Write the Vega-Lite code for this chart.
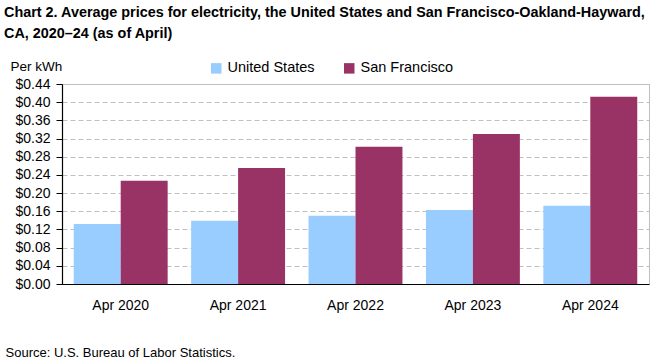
{
  "$schema": "https://vega.github.io/schema/vega-lite/v6.json",
  "width": 587,
  "height": 200,
  "autosize": "none",
  "padding": {"left": 62, "top": 84, "right": 12, "bottom": 76},
  "background": "white",
  "title": {
    "text": ["Chart 2. Average prices for electricity, the United States and San Francisco-Oakland-Hayward,", "CA, 2020–24 (as of April)"],
    "anchor": "start",
    "frame": "group",
    "dx": -58,
    "dy": -14,
    "font": "Liberation Sans",
    "fontSize": 14.4,
    "fontWeight": "bold",
    "color": "#000000",
    "lineHeight": 21,
    "baseline": "top"
  },
  "config": {
    "view": {"stroke": "#BFBFBF", "strokeWidth": 1},
    "font": "Liberation Sans",
    "axis": {"labelFont": "Liberation Sans", "labelColor": "#000000", "titleColor": "#000000"},
    "legend": {"labelFont": "Liberation Sans"}
  },
  "data": {
    "values": [
      {"period": "Apr 2020", "area": "United States", "price": 0.132},
      {"period": "Apr 2020", "area": "San Francisco", "price": 0.227},
      {"period": "Apr 2021", "area": "United States", "price": 0.139},
      {"period": "Apr 2021", "area": "San Francisco", "price": 0.255},
      {"period": "Apr 2022", "area": "United States", "price": 0.150},
      {"period": "Apr 2022", "area": "San Francisco", "price": 0.302},
      {"period": "Apr 2023", "area": "United States", "price": 0.163},
      {"period": "Apr 2023", "area": "San Francisco", "price": 0.330},
      {"period": "Apr 2024", "area": "United States", "price": 0.172},
      {"period": "Apr 2024", "area": "San Francisco", "price": 0.412}
    ]
  },
  "mark": {"type": "bar"},
  "encoding": {
    "x": {
      "field": "period",
      "type": "nominal",
      "sort": null,
      "scale": {"paddingInner": 0.2, "paddingOuter": 0.1},
      "axis": {
        "title": "Source: U.S. Bureau of Labor Statistics.",
        "titleX": -57,
        "titleY": 68,
        "titleAlign": "left",
        "titleBaseline": "middle",
        "titleFontWeight": "normal",
        "titleFontSize": 13,
        "titleFont": "Liberation Sans",
        "labelAngle": 0,
        "labelFontSize": 14,
        "labelPadding": 14,
        "ticks": false,
        "domainColor": "#000000",
        "domainWidth": 1.2,
        "grid": false
      }
    },
    "xOffset": {
      "field": "area",
      "type": "nominal",
      "sort": ["United States", "San Francisco"],
      "scale": {"paddingInner": 0, "paddingOuter": 0}
    },
    "y": {
      "field": "price",
      "type": "quantitative",
      "scale": {"domain": [0, 0.44], "nice": false},
      "axis": {
        "values": [0, 0.04, 0.08, 0.12, 0.16, 0.2, 0.24, 0.28, 0.32, 0.36, 0.4, 0.44],
        "format": "$.2f",
        "labelFontSize": 14,
        "labelPadding": 6,
        "tickSize": 6,
        "tickColor": "#000000",
        "domainColor": "#000000",
        "domainWidth": 1.2,
        "gridColor": "#BFBFBF",
        "gridDash": [5, 3],
        "gridWidth": 1,
        "title": "Per kWh",
        "titleAngle": 0,
        "titleX": -52,
        "titleY": -14,
        "titleAlign": "left",
        "titleBaseline": "alphabetic",
        "titleFontWeight": "normal",
        "titleFontSize": 13.5,
        "titleFont": "Liberation Sans"
      }
    },
    "color": {
      "field": "area",
      "type": "nominal",
      "sort": ["United States", "San Francisco"],
      "scale": {"domain": ["United States", "San Francisco"], "range": ["#99CCFF", "#993366"]},
      "legend": {
        "title": null,
        "orient": "none",
        "direction": "horizontal",
        "legendX": 147,
        "legendY": -23,
        "symbolType": "square",
        "symbolSize": 110,
        "symbolStrokeWidth": 0,
        "labelFontSize": 14.5,
        "labelColor": "#000000",
        "columnPadding": 27,
        "labelOffset": 4
      }
    }
  }
}
